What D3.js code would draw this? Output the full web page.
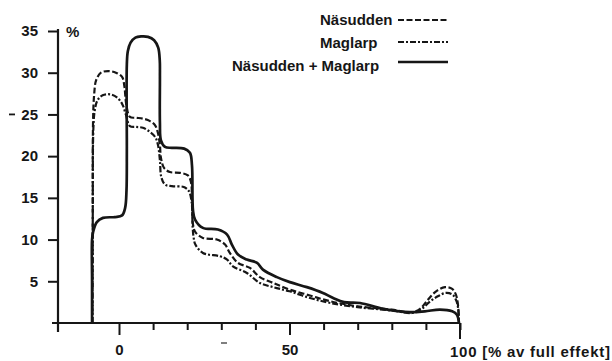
<!DOCTYPE html>
<html>
<head>
<meta charset="utf-8">
<script src="https://cdn.jsdelivr.net/npm/d3@7"></script>
<style>
  html, body { margin: 0; padding: 0; background: #fff; }
  svg { display: block; }
</style>
</head>
<body>
<svg id="chart" width="612" height="361"></svg>
<script>
// ---------- DATA ----------
const yTickValues = [5, 10, 15, 20, 25, 30, 35];
const xTickValues = [0, 10, 20, 30, 40, 50, 60, 70, 80, 90, 100];
const xLabelled = [0, 50];
const xLastLabel = "100 [% av full effekt]";
const yUnitLabel = "%";
const seriesNames = ["Näsudden", "Maglarp", "Näsudden + Maglarp"];

// Näsudden + Maglarp (solid)
const combinedPts = [[-7.9,0],[-7.9,5],[-7.9,10],[-7.6,10.9],[-6.5,12.1],[-4.7,12.6],[-1.2,12.7],[0.9,12.9],[1.8,13.8],[2.2,15.9],[2.3,20.7],[2.3,31.0],[2.6,32.6],[3.4,33.6],[4.8,34.2],[6.5,34.35],[8.5,34.3],[10.3,33.9],[11.5,33.0],[11.95,31.5],[12.0,29.5],[12.0,24.0],[12.3,21.9],[13.5,21.1],[15.5,21.0],[19.1,20.9],[20.8,20.4],[21.4,18.9],[21.7,13.5],[22.3,12.4],[24.6,11.4],[29.0,11.2],[31.7,10.6],[33.1,9.4],[34.9,8.2],[37.5,7.6],[40.5,7.2],[42.2,6.4],[46.3,5.5],[50.1,4.9],[55.1,4.3],[59.8,3.6],[62.8,3.0],[66,2.5],[70.7,2.4],[77.4,1.7],[85.3,1.3],[89.7,1.4],[94.1,1.6],[97.7,1.4],[99.1,1.0],[99.7,0]];

// Näsudden (dashed)
const nasuddenPts = [[-7.8,0],[-7.7,12],[-7.6,24.3],[-7.3,27.3],[-6.7,29.1],[-5.3,30.0],[-3.2,30.2],[-0.9,30.0],[0.9,29.5],[1.6,28.3],[2.1,26.3],[3.2,24.7],[5.0,24.6],[7.0,24.5],[9.1,24.2],[10.6,23.7],[11.4,22.8],[12.0,21.3],[12.3,19.8],[13.2,18.6],[14.9,18.1],[17.9,18.0],[20.2,17.7],[21.1,16.9],[21.4,14.7],[21.7,11.8],[22.4,10.9],[24.6,10.2],[28.7,10.0],[31.1,9.4],[32.5,8.4],[34.9,7.2],[38.4,6.6],[41.3,5.5],[45.2,4.8],[50.1,4.0],[56,3.3],[62,2.6],[70,2.0],[80,1.6],[86,1.3],[88.3,1.7],[90.6,2.8],[93.0,3.8],[95.6,4.3],[97.7,4.1],[98.8,3.4],[99.4,2.2],[99.7,0]];

// Maglarp (dash-dot)
const maglarpPts = [[-7.8,0],[-7.7,12],[-7.5,23.5],[-7.1,25.5],[-6.3,26.7],[-4.8,27.3],[-2.5,27.4],[-0.5,27.0],[1.0,26.2],[2.0,25.0],[3.2,23.6],[5.0,23.5],[7.0,23.4],[9.1,22.9],[10.6,22.3],[11.4,21.4],[12.0,19.5],[12.4,17.5],[13.5,16.6],[15.5,16.4],[19.0,16.3],[20.5,15.8],[21.3,14.5],[21.6,11.5],[21.9,10.2],[22.4,9.4],[24.6,8.4],[29.6,8.0],[31.7,7.6],[33.4,6.8],[37.5,6.0],[41.3,4.8],[45.2,4.3],[50,3.8],[56,3.0],[62,2.4],[70,1.9],[80,1.5],[86,1.2],[88.5,1.6],[91,2.5],[93.5,3.2],[95.8,3.6],[97.8,3.4],[99,2.6],[99.5,1.6],[99.7,0]];

// ---------- LAYOUT ----------
const svg = d3.select("#chart");
const x = d3.scaleLinear().domain([0, 100]).range([119, 460]);
const y = d3.scaleLinear().domain([0, 35]).range([323, 31]);
const yAxisX = 58;
const font = "'Liberation Sans', Arial, sans-serif";
const ink = "#161616";

// Y axis
const yAxis = d3.axisLeft(y).tickValues(yTickValues).tickSize(10).tickPadding(10).tickFormat(d3.format("d"));
const gy = svg.append("g").attr("transform", `translate(${yAxisX},0)`).call(yAxis);
gy.select(".domain").remove();
gy.selectAll(".tick line").attr("stroke", ink).attr("stroke-width", 2);
gy.selectAll(".tick text").attr("fill", ink).style("font-family", font).style("font-size", "15px").style("font-weight", "bold");
svg.append("line").attr("x1", yAxisX).attr("x2", yAxisX).attr("y1", y(35) - 2).attr("y2", y(0) + 9)
  .attr("stroke", ink).attr("stroke-width", 2.2);
svg.append("text").attr("x", 66).attr("y", 37).text(yUnitLabel)
  .attr("fill", ink).style("font-family", font).style("font-size", "15px").style("font-weight", "bold");
// scan mark left of 25
svg.append("line").attr("x1", 9).attr("x2", 15).attr("y1", y(25)).attr("y2", y(25))
  .attr("stroke", ink).attr("stroke-width", 1.8);

// X axis
const xAxis = d3.axisBottom(x).tickValues(xTickValues).tickSize(7).tickPadding(14)
  .tickFormat(d => xLabelled.includes(d) ? d3.format("d")(d) : "");
const gx = svg.append("g").attr("transform", `translate(0,${y(0)})`).call(xAxis);
gx.select(".domain").remove();
gx.selectAll(".tick line").attr("stroke", ink).attr("stroke-width", 2)
  .attr("y2", d => (xLabelled.includes(d) ? 12 : 7));
gx.selectAll(".tick text").attr("fill", ink).style("font-family", font).style("font-size", "15px").style("font-weight", "bold");
svg.append("line").attr("x1", 52).attr("x2", x(100)).attr("y1", y(0)).attr("y2", y(0))
  .attr("stroke", ink).attr("stroke-width", 2.2);
svg.append("line").attr("x1", x(100)).attr("x2", x(100)).attr("y1", y(0)).attr("y2", y(0) + 16)
  .attr("stroke", ink).attr("stroke-width", 2);
svg.append("text").attr("x", x(100) - 10).attr("y", 357).text(xLastLabel)
  .attr("fill", ink).style("font-family", font).style("font-size", "15px").style("font-weight", "bold")
  .style("letter-spacing", "0.75px");
// scan mark below x=30
svg.append("line").attr("x1", 221).attr("x2", 227).attr("y1", 343).attr("y2", 343)
  .attr("stroke", "#555").attr("stroke-width", 1.5);

// Curves
const line = d3.line().x(d => x(d[0])).y(d => y(d[1])).curve(d3.curveCatmullRom.alpha(0.5));
const styles = [
  { pts: nasuddenPts, dash: "6,2.5", w: 2.2 },
  { pts: maglarpPts, dash: "6,2,2,2", w: 2.2 },
  { pts: combinedPts, dash: null, w: 2.7 }
];
styles.forEach(s => {
  svg.append("path").datum(s.pts).attr("d", line).attr("fill", "none")
    .attr("stroke", ink).attr("stroke-width", s.w)
    .attr("stroke-dasharray", s.dash).attr("stroke-linejoin", "round").attr("stroke-linecap", "butt");
});

// Legend
const legendText = [
  { name: seriesNames[0], tx: 320, ty: 25, ly: 20, dash: "6,2.5" },
  { name: seriesNames[1], tx: 320, ty: 48, ly: 42, dash: "6,2,2,2" },
  { name: seriesNames[2], tx: 232, ty: 71, ly: 62, dash: null }
];
legendText.forEach(l => {
  svg.append("text").attr("x", l.tx).attr("y", l.ty).text(l.name)
    .attr("fill", ink).style("font-family", font).style("font-size", "15px").style("font-weight", "bold");
  svg.append("line").attr("x1", 398).attr("x2", 448).attr("y1", l.ly).attr("y2", l.ly)
    .attr("stroke", ink).attr("stroke-width", l.dash ? 2.2 : 2.7).attr("stroke-dasharray", l.dash);
});
</script>
</body>
</html>
